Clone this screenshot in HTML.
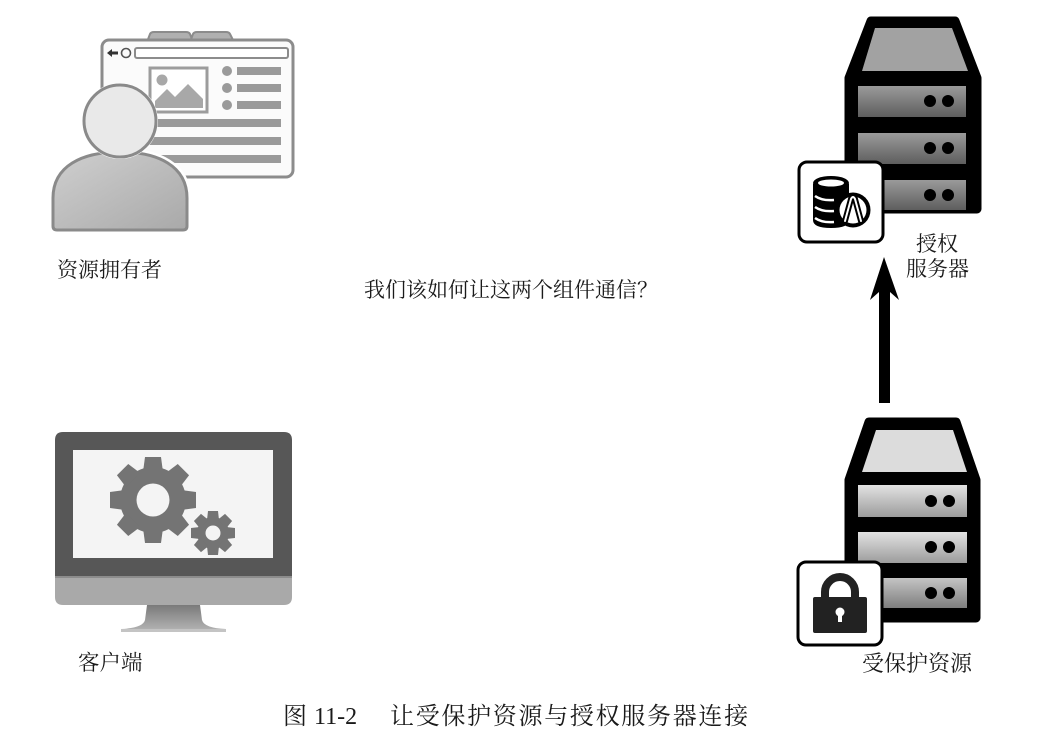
<!DOCTYPE html>
<html><head><meta charset="utf-8">
<style>
html,body{margin:0;padding:0;background:#fff;}
svg{display:block;}
.t{font-family:"Liberation Serif","Noto Serif CJK SC",serif;fill:#1a1a1a;}
</style></head>
<body>
<svg width="1060" height="746" viewBox="0 0 1060 746" xmlns="http://www.w3.org/2000/svg">
<defs>
<linearGradient id="bodyG" x1="0" y1="0" x2="1" y2="1">
<stop offset="0" stop-color="#cfcfcf"/><stop offset="1" stop-color="#a9a9a9"/></linearGradient>
<linearGradient id="drDark" x1="0" y1="0" x2="0" y2="1">
<stop offset="0" stop-color="#9a9a9a"/><stop offset="1" stop-color="#5e5e5e"/></linearGradient>
<linearGradient id="drLight" x1="0" y1="0" x2="0" y2="1">
<stop offset="0" stop-color="#e2e2e2"/><stop offset="1" stop-color="#9c9c9c"/></linearGradient>
<linearGradient id="drMid" x1="0" y1="0" x2="0" y2="1">
<stop offset="0" stop-color="#c4c4c4"/><stop offset="1" stop-color="#7e7e7e"/></linearGradient>
<linearGradient id="standG" x1="0" y1="0" x2="0" y2="1">
<stop offset="0" stop-color="#7a7a7a"/><stop offset="1" stop-color="#b0b0b0"/></linearGradient>
</defs>

<!-- ===== Browser / resource owner ===== -->
<path d="M147,42 L150,34 Q151,32 154,32 L186,32 Q189,32 190,34 L193,42 Z" fill="#b0b0b0" stroke="#8c8c8c" stroke-width="2"/>
<path d="M190,42 L193,34 Q194,32 197,32 L226,32 Q229,32 230,34 L234,42 Z" fill="#b0b0b0" stroke="#8c8c8c" stroke-width="2"/>
<rect x="102" y="40" width="191" height="137" rx="7" fill="#fbfbfb" stroke="#8c8c8c" stroke-width="3"/>
<rect x="135" y="48" width="153" height="10" rx="2" fill="#fff" stroke="#8c8c8c" stroke-width="2"/>
<path d="M107,53 L112,49 L112,51.5 L118,51.5 L118,54.5 L112,54.5 L112,57 Z" fill="#333"/>
<circle cx="126" cy="53" r="4.5" fill="none" stroke="#555" stroke-width="1.6"/>
<rect x="150" y="68" width="57" height="44" fill="#fff" stroke="#9c9c9c" stroke-width="3"/>
<circle cx="162" cy="80" r="5.5" fill="#a8a8a8"/>
<path d="M155,108 L155,101 L167,89 L175,97 L188,84 L203,99 L203,108 Z" fill="#a8a8a8"/>
<circle cx="227" cy="71" r="5" fill="#9a9a9a"/>
<circle cx="227" cy="88" r="5" fill="#9a9a9a"/>
<circle cx="227" cy="105" r="5" fill="#9a9a9a"/>
<rect x="237" y="67" width="44" height="8" fill="#9a9a9a"/>
<rect x="237" y="84" width="44" height="8" fill="#9a9a9a"/>
<rect x="237" y="101" width="44" height="8" fill="#9a9a9a"/>
<rect x="140" y="119" width="141" height="8" fill="#9a9a9a"/>
<rect x="140" y="137" width="141" height="8" fill="#9a9a9a"/>
<rect x="140" y="155" width="141" height="8" fill="#9a9a9a"/>
<!-- person -->
<path d="M53,226 L53,198 C53,166 82,152 120,152 C158,152 187,166 187,198 L187,226 Q187,230 183,230 L57,230 Q53,230 53,226 Z" fill="url(#bodyG)" stroke="#fff" stroke-width="8"/>
<path d="M53,226 L53,198 C53,166 82,152 120,152 C158,152 187,166 187,198 L187,226 Q187,230 183,230 L57,230 Q53,230 53,226 Z" fill="url(#bodyG)" stroke="#8a8a8a" stroke-width="3"/>
<circle cx="120" cy="121" r="38" fill="#fff"/>
<circle cx="120" cy="121" r="36" fill="#e9e9e9" stroke="#8a8a8a" stroke-width="3"/>

<!-- ===== Monitor / client ===== -->
<path d="M55,577 L55,440 Q55,432 63,432 L284,432 Q292,432 292,440 L292,577 Z" fill="#575757"/>
<path d="M55,578 L292,578 L292,597 Q292,605 284,605 L63,605 Q55,605 55,597 Z" fill="#a9a9a9"/>
<rect x="55" y="576" width="237" height="2" fill="#8c8c8c"/>
<rect x="73" y="450" width="200" height="108" fill="#f4f4f4"/>
<path d="M147,605 L200,605 L202,620 Q204,628 226,629 L121,629 Q143,628 145,620 Z" fill="url(#standG)"/>
<rect x="121" y="629" width="105" height="3" fill="#c4c4c4"/>
<!-- big gear -->
<g transform="translate(153,500)" fill="#747474">
<circle r="33"/>
<g id="tb"><path d="M-10,-28 L10,-28 L8,-43 L-8,-43 Z"/></g>
<use href="#tb" transform="rotate(45)"/><use href="#tb" transform="rotate(90)"/>
<use href="#tb" transform="rotate(135)"/><use href="#tb" transform="rotate(180)"/>
<use href="#tb" transform="rotate(225)"/><use href="#tb" transform="rotate(270)"/>
<use href="#tb" transform="rotate(315)"/>
<circle r="16.5" fill="#f4f4f4"/>
</g>
<!-- small gear -->
<g transform="translate(213,533)" fill="#747474">
<circle r="16"/>
<g id="ts"><path d="M-6,-13 L6,-13 L5,-22 L-5,-22 Z"/></g>
<use href="#ts" transform="rotate(45)"/><use href="#ts" transform="rotate(90)"/>
<use href="#ts" transform="rotate(135)"/><use href="#ts" transform="rotate(180)"/>
<use href="#ts" transform="rotate(225)"/><use href="#ts" transform="rotate(270)"/>
<use href="#ts" transform="rotate(315)"/>
<circle r="7.5" fill="#f4f4f4"/>
</g>

<!-- ===== Authorization server ===== -->
<path d="M871,21 L955,21 L977,78 L977,209 L849,209 L849,78 Z" fill="#000" stroke="#000" stroke-width="9" stroke-linejoin="round"/>
<path d="M875,28 L952,28 L968,71 L862,71 Z" fill="#a2a2a2"/>
<rect x="858" y="86" width="108" height="31" fill="url(#drDark)"/>
<rect x="858" y="133" width="108" height="31" fill="url(#drDark)"/>
<rect x="858" y="180" width="108" height="30" fill="url(#drDark)"/>
<g fill="#000">
<circle cx="930" cy="101" r="6"/><circle cx="948" cy="101" r="6"/>
<circle cx="930" cy="148" r="6"/><circle cx="948" cy="148" r="6"/>
<circle cx="930" cy="195" r="6"/><circle cx="948" cy="195" r="6"/>
</g>
<!-- auth badge -->
<rect x="799" y="162" width="84" height="80" rx="8" fill="#fff" stroke="#000" stroke-width="3"/>
<path d="M813,184 L813,220 Q813,228 831,228 Q849,228 849,220 L849,184 Z" fill="#000"/>
<ellipse cx="831" cy="183" rx="18" ry="7" fill="#000"/>
<ellipse cx="831" cy="183" rx="13" ry="3.5" fill="#fff"/>
<path d="M815,196 Q822,201 834,200" fill="none" stroke="#fff" stroke-width="2.5"/>
<path d="M815,207 Q822,212 834,211" fill="none" stroke="#fff" stroke-width="2.5"/>
<path d="M815,218 Q822,223 834,222" fill="none" stroke="#fff" stroke-width="2.5"/>
<circle cx="853" cy="210" r="17.5" fill="#000"/>
<circle cx="853" cy="210" r="13.5" fill="#fff"/>
<path d="M845,221 L851,199 Q853,195 855,199 L861,221" fill="none" stroke="#000" stroke-width="6" stroke-linejoin="round" stroke-linecap="round"/>
<path d="M845,221 L851,199 Q853,195 855,199 L861,221" fill="none" stroke="#fff" stroke-width="2" stroke-linejoin="round" stroke-linecap="round"/>

<!-- arrow -->
<path d="M884,257 L899,300 L890,292 L890,403 L879,403 L879,292 L870,300 Z" fill="#000"/>

<!-- ===== Protected resource server ===== -->
<path d="M869,422 L956,422 L976,480 L976,618 L849,618 L849,480 Z" fill="#000" stroke="#000" stroke-width="9" stroke-linejoin="round"/>
<path d="M876,430 L953,430 L967,472 L862,472 Z" fill="#dcdcdc"/>
<rect x="858" y="485" width="109" height="32" fill="url(#drLight)"/>
<rect x="858" y="532" width="109" height="31" fill="url(#drLight)"/>
<rect x="858" y="578" width="109" height="30" fill="url(#drMid)"/>
<g fill="#000">
<circle cx="931" cy="501" r="6"/><circle cx="949" cy="501" r="6"/>
<circle cx="931" cy="547" r="6"/><circle cx="949" cy="547" r="6"/>
<circle cx="931" cy="593" r="6"/><circle cx="949" cy="593" r="6"/>
</g>
<!-- lock badge -->
<rect x="798" y="562" width="84" height="83" rx="8" fill="#fff" stroke="#000" stroke-width="3"/>
<path d="M825,600 L825,592 A15,15 0 0 1 855,592 L855,600" fill="none" stroke="#222" stroke-width="8"/>
<rect x="813" y="597" width="54" height="36" rx="2" fill="#222"/>
<circle cx="840" cy="612" r="4.5" fill="#fff"/>
<rect x="838" y="612" width="4" height="10" fill="#fff"/>

<!-- ===== Labels ===== -->
<text class="t" x="57" y="277" font-size="21">资源拥有者</text>
<text class="t" x="364" y="297" font-size="21">我们该如何让这两个组件通信？</text>
<text class="t" x="916" y="251" font-size="21">授权</text>
<text class="t" x="906" y="276" font-size="21">服务器</text>
<text class="t" x="78" y="670" font-size="21.5">客户端</text>
<text class="t" x="862" y="671" font-size="22">受保护资源</text>
<text class="t" x="283" y="724" font-size="24">图</text>
<text class="t" x="314" y="724" font-size="24">11-2</text>
<text class="t" x="390" y="724" font-size="24" letter-spacing="1.7">让受保护资源与授权服务器连接</text>
</svg>
</body></html>
